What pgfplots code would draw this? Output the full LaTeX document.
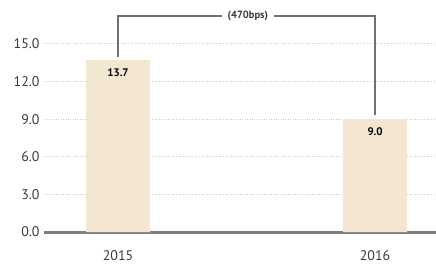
\documentclass[border=0pt]{standalone}
\usepackage{pgfplots}
\pgfplotsset{compat=1.18}
\usepackage{fontspec}
\setmainfont{PT Sans}
\definecolor{barc}{HTML}{F3E7D2}
\definecolor{txt}{HTML}{3A3A3A}
\definecolor{brk}{HTML}{707070}
\begin{document}
\begin{tikzpicture}
\begin{axis}[
  at={(0,0)}, anchor=south west,
  scale only axis, width=392bp, height=232bp,
  xmin=-0.288, xmax=1.237, ymin=0, ymax=18.5,
  xtick=data, xticklabels={2015,2016},
  ytick={0,3,6,9,12,15},
  yticklabel style={/pgf/number format/fixed,/pgf/number format/fixed zerofill,/pgf/number format/precision=1, xshift=-1bp},
  /pgf/number format/assume math mode=true,
  major tick length=0pt,
  axis x line*=bottom, axis y line*=left,
  y axis line style={draw=none},
  x axis line style={draw=brk!90, line width=3bp},
  ymajorgrids, grid style={dotted, gray!40, line width=0.8bp},
  tick label style={font=\fontsize{14}{15}\selectfont, text=txt},
  xticklabel style={yshift=-15bp},
  clip=false,
]
\addplot[ybar, bar width=64bp, fill=barc, draw=none,
  nodes near coords,
  nodes near coords style={font=\bfseries\fontsize{11}{12}\selectfont, text=black, anchor=north, yshift=-5bp,
    /pgf/number format/fixed,/pgf/number format/fixed zerofill,/pgf/number format/precision=1},
] coordinates {(0,13.7) (1,9.0)};
\draw[brk, line width=1.5bp] (axis cs:0,13.97) -- (axis cs:0,17.24) -- (axis cs:1,17.24) -- (axis cs:1,9.34);
\node[fill=white, inner xsep=6bp, font=\bfseries\fontsize{10.5}{11}\selectfont, text=txt] at (axis cs:0.505,17.24) {(470bps)};
\end{axis}
\pgfresetboundingbox
\path (-44bp,-33bp) rectangle (392bp,232bp);
\end{tikzpicture}
\end{document}
